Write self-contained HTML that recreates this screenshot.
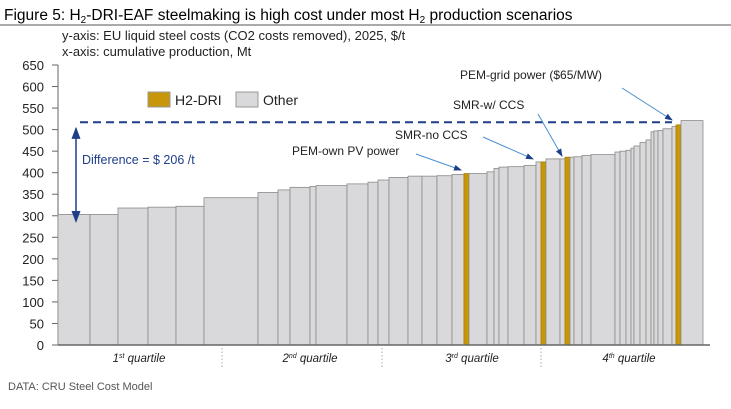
<!DOCTYPE html>
<html><head><meta charset="utf-8"><style>
body{margin:0;background:#fff;}
svg{display:block;font-family:"Liberation Sans",Arial,sans-serif;}
</style></head><body>
<svg id="chart" width="731" height="409" viewBox="0 0 731 409">
<defs>
<marker id="ah" markerWidth="8" markerHeight="8" refX="7" refY="4" orient="auto"><path d="M0,1 L8,4 L0,7 z" fill="#1f3e8a"/></marker>
<marker id="ahs" markerWidth="8" markerHeight="8" refX="1" refY="4" orient="auto-start-reverse"><path d="M0,1 L8,4 L0,7 z" fill="#1f3e8a"/></marker>
</defs>
<text x="4" y="20" font-size="15.5" fill="#000">Figure 5: H<tspan font-size="10" dy="3">2</tspan><tspan dy="-3">-DRI-EAF steelmaking is high cost under most H</tspan><tspan font-size="10" dy="3">2</tspan><tspan dy="-3"> production scenarios</tspan></text>
<line x1="0" y1="25" x2="731" y2="25" stroke="#555" stroke-width="1"/>
<text x="62" y="40" font-size="13" fill="#222">y-axis: EU liquid steel costs (CO2 costs removed), 2025, $/t</text>
<text x="62" y="56" font-size="13" fill="#222">x-axis: cumulative production, Mt</text>
<g id="yaxis"></g>
<g id="bars"></g>
<g id="annot"></g>
<text x="8" y="390" font-size="11" fill="#555">DATA: CRU Steel Cost Model</text>
</svg>
<script>
// widths are capacities (Mt, relative), costs in $/t
const widths = [32,28,30,28,28,54,20,12,20,6,31,21,10,11,19,14,15,15,12,5,18,7,5,9,16,12,5,5,14,5,5,4,8,9,24,5,6,5,3,6,6,5,3,4,5,9,4,5,22];
const costs  = [303,303,318,320,322,342,354,360,366,368,370,374,378,383,389,392,392,393,396,398,398,402,410,413,414,417,425,425,432,432,436,436,437,440,442,448,450,452,457,462,470,476,495,497,498,502,507,511,521];
const isH2   = [0,0,0,0,0,0,0,0,0,0,0,0,0,0,0,0,0,0,0,1,0,0,0,0,0,0,0,1,0,0,1,0,0,0,0,0,0,0,0,0,0,0,0,0,0,0,0,1,0];
const yTicks = [0,50,100,150,200,250,300,350,400,450,500,550,600,650];
const quartiles = ["1st","2nd","3rd","4th"];
const diffLevel = 517;
const diffLabel = "Difference = $ 206 /t";

const NS="http://www.w3.org/2000/svg";
const X0=58, X1=703, Y0=345, YT=65;
const total = widths.reduce((a,b)=>a+b,0);
const xs = v => X0 + v/total*(X1-X0);
const ys = v => Y0 - v/650*(Y0-YT);
function mk(tag, attrs, parent){const e=document.createElementNS(NS,tag);for(const k in attrs)e.setAttribute(k,attrs[k]);parent.appendChild(e);return e;}

const ya=document.getElementById('yaxis');
yTicks.forEach(t=>{
  const l=mk('line',{x1:X0-6,x2:X0,y1:ys(t),y2:ys(t),stroke:'#666'},ya);
  
  
  const tx=mk('text',{x:44,y:ys(t)+5,'font-size':13,'text-anchor':'end',fill:'#222'},ya);
  tx.textContent=t;
  
  
});
const yl=mk('line',{x1:X0,x2:X0,y1:YT,y2:Y0,stroke:'#666'},ya);



const bg=document.getElementById('bars');
let cum=0;
widths.forEach((w,i)=>{
  const x=xs(cum), x2=xs(cum+w);
  const r=mk('rect',{x:x,y:ys(costs[i]),width:x2-x,height:Y0-ys(costs[i]),fill:isH2[i]?'#c8960a':'#d9d9db',stroke:isH2[i]?'#b08000':'#8a8a8a','stroke-width':0.8},bg);
  
  
  cum+=w;
});
const xl=mk('line',{x1:X0,x2:710,y1:Y0,y2:Y0,stroke:'#666','stroke-width':1.5},bg);



const an=document.getElementById('annot');
// quartiles
const qc=[139,310,472,629], qs=[222,382,541];
qs.forEach(x=>{const l=mk('line',{x1:x,x2:x,y1:348,y2:368,stroke:'#aaa','stroke-dasharray':'1.5,2'},an);
  
  });
quartiles.forEach((q,i)=>{
  const t=mk('text',{x:qc[i],y:362,'font-size':11.5,'font-style':'italic','text-anchor':'middle',fill:'#222'},an);
  t.innerHTML=q[0]+'<tspan font-size="7" dy="-4">'+q.slice(1)+'</tspan><tspan dy="4"> quartile</tspan>';
  
  
});
// legend
let e=mk('rect',{x:148,y:92,width:22,height:15,fill:'#c8960a',stroke:'#999'},an);


e=mk('text',{x:175,y:105,'font-size':14,fill:'#222'},an);e.textContent='H2-DRI';


e=mk('rect',{x:236,y:92,width:22,height:15,fill:'#d9d9db',stroke:'#999'},an);


e=mk('text',{x:263,y:105,'font-size':14,fill:'#222'},an);e.textContent='Other';


// difference line
e=mk('line',{x1:80,x2:672,y1:ys(diffLevel),y2:ys(diffLevel),stroke:'#1f3e8a','stroke-width':2,'stroke-dasharray':'8,5'},an);


e=mk('line',{x1:76,x2:76,y1:ys(costs[0])-2,y2:ys(diffLevel-14),stroke:'#1f3e8a','stroke-width':1.5,'marker-end':'url(#ah)','marker-start':'url(#ahs)'},an);


e=mk('text',{x:82,y:164,'font-size':12.5,fill:'#1f3e8a'},an);e.textContent=diffLabel;


// callouts
const calls=[["PEM-grid power ($65/MW)",460,79,622,88,672,120],["SMR-w/ CCS",453,109,538,114,562,156],["SMR-no CCS",395,139,483,137,533,159],["PEM-own PV power",292,155,416,154,461,170]];
calls.forEach(c=>{
  const t=mk('text',{x:c[1],y:c[2],'font-size':12,fill:'#222'},an);t.textContent=c[0];
  
  
  const l=mk('line',{x1:c[3],y1:c[4],x2:c[5],y2:c[6],stroke:'#4a8fd0','stroke-width':1,'marker-end':'url(#ah)'},an);
  
  
});
</script>
</body></html>
